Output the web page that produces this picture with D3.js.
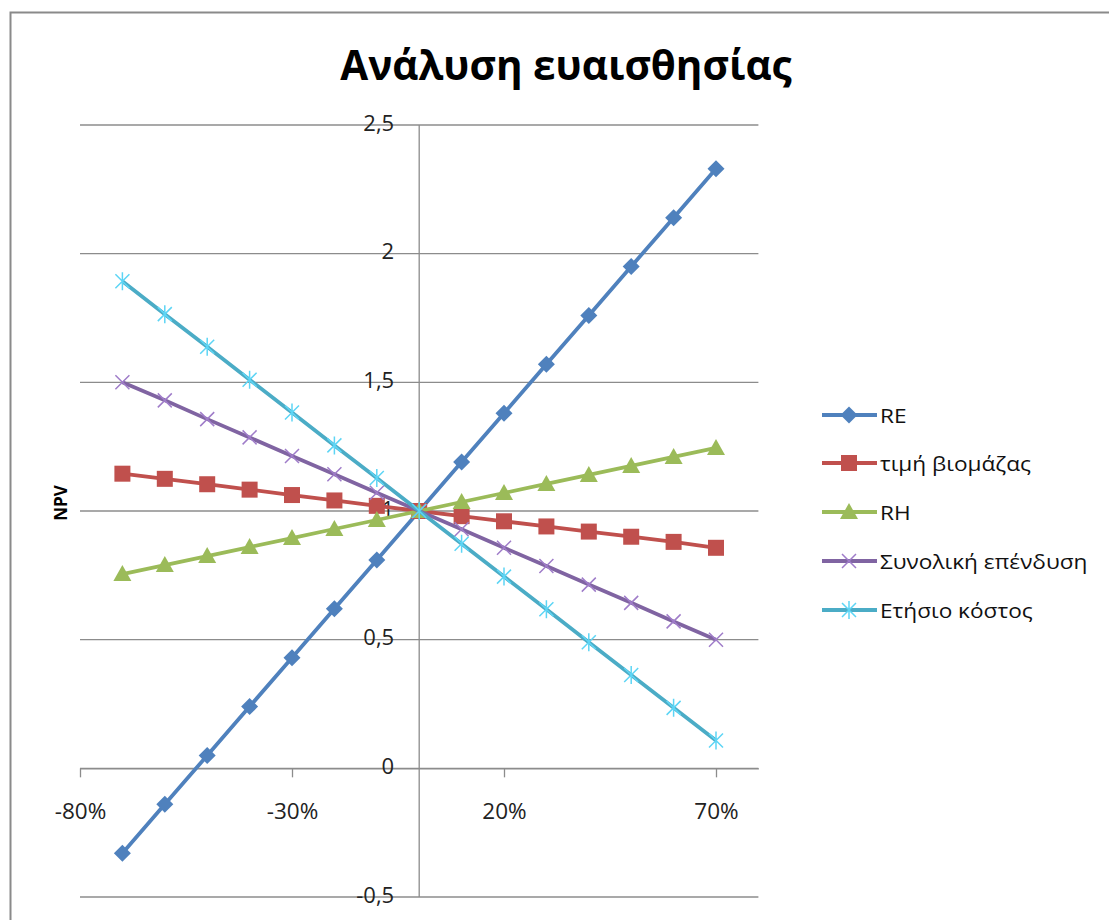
<!DOCTYPE html>
<html><head><meta charset="utf-8">
<script src="https://cdn.jsdelivr.net/npm/d3@7"></script>
<style>body{margin:0;background:#fff}svg{display:block}</style>
</head><body>
<svg id="chart" width="1109" height="920"></svg>
<script>
const xValues = [-0.7,-0.6,-0.5,-0.4,-0.3,-0.2,-0.1,0,0.1,0.2,0.3,0.4,0.5,0.6,0.7];
const seriesNames = ["RE","τιμή βιομάζας","RH","Συνολική επένδυση","Ετήσιο κόστος"];
const reValues = [-0.33,-0.14,0.05,0.24,0.43,0.62,0.81,1.0,1.19,1.38,1.57,1.76,1.95,2.14,2.33];
const biomassValues = [1.145,1.125,1.104,1.083,1.062,1.041,1.02,1.0,0.98,0.96,0.94,0.92,0.9,0.88,0.857];
const rhValues = [0.755,0.79,0.825,0.86,0.895,0.93,0.965,1.0,1.035,1.07,1.105,1.14,1.175,1.21,1.245];
const investValues = [1.5,1.43,1.357,1.286,1.214,1.143,1.071,1.0,0.929,0.857,0.786,0.714,0.643,0.571,0.5];
const costValues = [1.893,1.765,1.638,1.51,1.383,1.255,1.128,1.0,0.873,0.745,0.618,0.49,0.363,0.235,0.108];
const xTicks = [-0.8,-0.3,0.2,0.7];
const yTicks = [-0.5,0,0.5,1,1.5,2,2.5];
const colors = ["#4F81BD","#C0504D","#9BBB59","#8064A2","#4BACC6"];
const markers = ["diamond","square","triangle","x","star"];
const allValues = [reValues,biomassValues,rhValues,investValues,costValues];

const svg = d3.select("#chart");
const font = "'Open Sans', sans-serif";

// outer border
svg.append("rect").attr("x",10.5).attr("y",12.5).attr("width",1110).attr("height",920)
  .attr("fill","none").attr("stroke","#8a8a8a").attr("stroke-width",2);

const x = d3.scaleLinear().domain([-0.8,0.8]).range([80,758.4]);
const y = d3.scaleLinear().domain([-0.5,2.5]).range([897,125]);

// gridlines
svg.append("g").selectAll("line").data(yTicks).join("line")
  .attr("x1",x(-0.8)).attr("x2",x(0.8))
  .attr("y1",d=>y(d)).attr("y2",d=>y(d))
  .attr("stroke","#8c8c8c").attr("stroke-width",1.3);

// y axis line at x=0
svg.append("line").attr("x1",x(0)).attr("x2",x(0)).attr("y1",y(2.5)).attr("y2",y(-0.5))
  .attr("stroke","#8c8c8c").attr("stroke-width",1.3);

// x axis with ticks
const xAxis = d3.axisBottom(x).tickValues(xTicks).tickSize(9).tickSizeOuter(0)
  .tickFormat(d=>Math.round(d*100)+"%");
const gx = svg.append("g").attr("transform",`translate(0,${y(0)})`).call(xAxis);
gx.select(".domain").attr("stroke","#8c8c8c").attr("stroke-width",1.3);
gx.selectAll(".tick line").attr("stroke","#8c8c8c").attr("stroke-width",1.3);
gx.selectAll(".tick text").attr("font-family",font).attr("font-size",22.5).attr("fill","#222")
  .attr("y",51).attr("dy",0);

// y labels
const fmtY = d=>String(d).replace(".",",");
svg.append("g").selectAll("text").data(yTicks).join("text")
  .attr("x",x(0)-25).attr("y",d=>y(d)+5.5).attr("text-anchor","end")
  .attr("font-family",font).attr("font-size",22).attr("fill","#222").text(fmtY);

// title
svg.append("text").attr("x",566).attr("y",80).attr("text-anchor","middle")
  .attr("font-family",font).attr("font-weight","bold").attr("font-size",40.5)
  .attr("fill","#000").text("Ανάλυση ευαισθησίας");

// y axis title
svg.append("text").attr("transform",`translate(67,503) rotate(-90)`).attr("text-anchor","middle")
  .attr("font-family",font).attr("font-weight","bold").attr("font-size",17)
  .attr("fill","#000").text("NPV");

function drawMarker(g, type, color, cx, cy){
  if(type==="diamond"){
    g.append("path").attr("d",`M${cx},${cy-8.5}L${cx+8.5},${cy}L${cx},${cy+8.5}L${cx-8.5},${cy}Z`).attr("fill",color);
  } else if(type==="square"){
    g.append("rect").attr("x",cx-8).attr("y",cy-8).attr("width",16).attr("height",16).attr("fill",color);
  } else if(type==="triangle"){
    g.append("path").attr("d",`M${cx},${cy-9}L${cx+9},${cy+7}L${cx-9},${cy+7}Z`).attr("fill",color);
  } else if(type==="x"){
    g.append("path").attr("d",`M${cx-7},${cy-7}L${cx+7},${cy+7}M${cx-7},${cy+7}L${cx+7},${cy-7}`)
      .attr("stroke",d3.color(color).brighter(0.6)).attr("stroke-width",1.5).attr("fill","none");
  } else if(type==="star"){
    g.append("path").attr("d",`M${cx-7},${cy-7}L${cx+7},${cy+7}M${cx-7},${cy+7}L${cx+7},${cy-7}M${cx},${cy-9}L${cx},${cy+9}`)
      .attr("stroke",d3.color(color).brighter(0.6)).attr("stroke-width",1.5).attr("fill","none");
  }
}

const line = d3.line().x((d,i)=>x(xValues[i])).y(d=>y(d));
allValues.forEach((vals,si)=>{
  const g = svg.append("g");
  g.append("path").attr("d",line(vals)).attr("fill","none").attr("stroke",colors[si]).attr("stroke-width",3.8);
  vals.forEach((v,i)=>drawMarker(g,markers[si],colors[si],x(xValues[i]),y(v)));
});

// legend
const legendY = [415,463,512,561,610];
seriesNames.forEach((name,i)=>{
  const g = svg.append("g");
  g.append("line").attr("x1",822).attr("x2",877).attr("y1",legendY[i]).attr("y2",legendY[i])
    .attr("stroke",colors[i]).attr("stroke-width",3.8);
  drawMarker(g,markers[i],colors[i],849,legendY[i]);
  g.append("text").attr("transform",`translate(880,${legendY[i]+8}) scale(1.16,1)`)
    .attr("font-family",font).attr("font-size",19.5).attr("fill","#111").text(name);
});
</script>
</body></html>
